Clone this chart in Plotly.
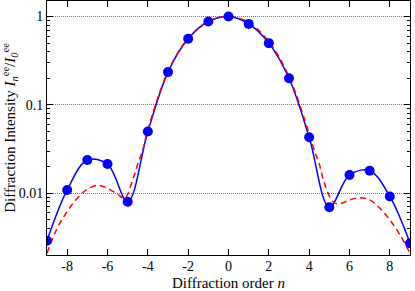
import plotly.graph_objects as go

# Measured diffraction intensities (blue points)
orders = list(range(-9, 10))
intensity = [0.0029, 0.0109, 0.0238, 0.0214, 0.0080, 0.0499, 0.235, 0.56, 0.878, 1.0,
             0.826, 0.50, 0.20, 0.0431, 0.00695, 0.0161, 0.0180, 0.0092, 0.00272]

# Theoretical curve (red dashed)
theory_n = [-9, -8.5, -8, -7.5, -7, -6.5, -6, -5.5, -5.15, -4.75, -4.5, -4.25, -4,
            -3, -2, -1, 0, 1, 2, 3, 4, 4.25, 4.5, 4.75, 5.2, 5.5, 6, 6.5, 7, 7.5, 8, 8.5, 9]
theory_i = [0.0021, 0.0040, 0.0062, 0.0088, 0.0111, 0.0123, 0.0114, 0.0097, 0.0088, 0.0141,
            0.0215, 0.031, 0.052, 0.24, 0.57, 0.88, 1.0, 0.86, 0.52, 0.21, 0.047, 0.031,
            0.0215, 0.0131, 0.0079, 0.0076, 0.0084, 0.0089, 0.0084, 0.0068, 0.0050, 0.0034, 0.0021]

x_ticks = [-8, -6, -4, -2, 0, 2, 4, 6, 8]
x_ticktext = ["-8", "-6", "-4", "-2", "0", "2", "4", "6", "8"]
y_ticks = [0.01, 0.1, 1]
y_ticktext = ["0.01", "0.1", "1"]
y_minor = [0.002, 0.003, 0.004, 0.005, 0.006, 0.007, 0.008, 0.009,
           0.02, 0.03, 0.04, 0.05, 0.06, 0.07, 0.08, 0.09,
           0.2, 0.3, 0.4, 0.5, 0.6, 0.7, 0.8, 0.9]

FONT = "Liberation Serif, Times New Roman, serif"

fig = go.Figure()
fig.add_trace(go.Scatter(x=orders, y=intensity, mode="lines",
                         line=dict(color="#0000ff", width=1.5, shape="spline", smoothing=1.0),
                         hoverinfo="skip", showlegend=False))
fig.add_trace(go.Scatter(x=theory_n, y=theory_i, mode="lines",
                         line=dict(color="#ff0000", width=1.5, dash="6px,4px", shape="spline", smoothing=1.0),
                         showlegend=False))
fig.add_trace(go.Scatter(x=orders, y=intensity, mode="markers",
                         marker=dict(color="#0000ff", size=10),
                         showlegend=False))

fig.update_layout(
    width=415, height=291,
    margin=dict(l=47, r=5, t=1, b=36),
    paper_bgcolor="white", plot_bgcolor="white",
    font=dict(family=FONT, size=15, color="black"),
    xaxis=dict(range=[-9, 9], tickvals=x_ticks, ticktext=x_ticktext, ticks="inside", ticklen=6,
               tickcolor="black", showline=True, linecolor="black", linewidth=1,
               tickfont=dict(family=FONT, size=14), ticklabelstandoff=-2,
               mirror="ticks", showgrid=False, zeroline=False,
               title=dict(text="Diffraction order <i>n</i>", standoff=4,
                          font=dict(family=FONT, size=15))),
    yaxis=dict(type="log", range=[-2.699, 0.176], tickvals=y_ticks, ticktext=y_ticktext,
               ticks="inside", ticklen=6, tickcolor="black",
               tickfont=dict(family=FONT, size=14),
               showline=True, linecolor="black", linewidth=1, mirror="ticks",
               showgrid=True, gridcolor="#777777", griddash="1px,1px", gridwidth=1,
               zeroline=False,
               minor=dict(ticks="inside", ticklen=3, tickcolor="black",
                          tickvals=y_minor, showgrid=False),
               title=dict(text="Diffraction Intensity <i>I</i><sub><i>n</i></sub><sup>ee</sup>/<i>I</i><sub><i>0</i></sub><sup>ee</sup>",
                          standoff=4, font=dict(family=FONT, size=15))),
)

fig.write_html("out.html", config={"displayModeBar": False},
               post_script="document.body.style.margin='0';")
